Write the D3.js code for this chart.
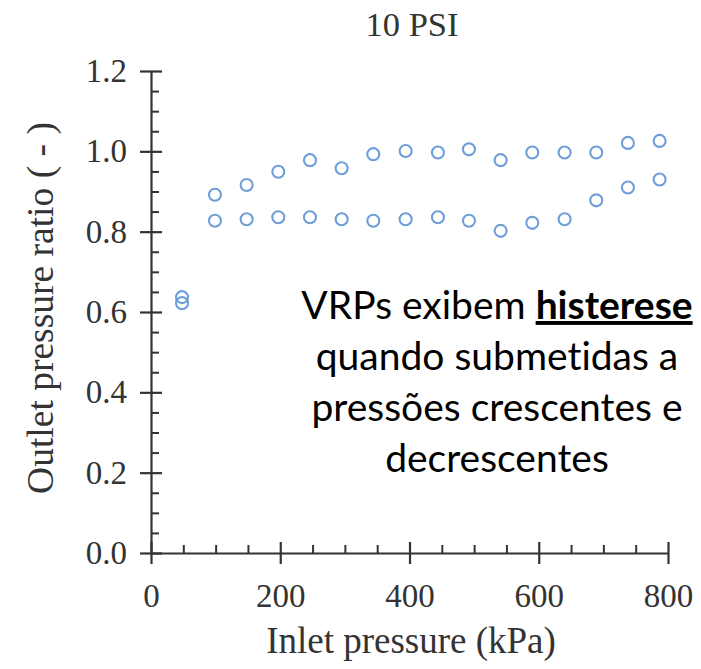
<!DOCTYPE html>
<html><head><meta charset="utf-8">
<script src="https://cdn.jsdelivr.net/npm/d3@7"></script>
<style>
html,body{margin:0;padding:0;background:#fff;}
svg{display:block;}
text{font-variant-ligatures:none;}
</style></head>
<body>
<svg id="chart" width="701" height="669"></svg>
<script>
// Data
const inletPressure = [48, 99, 148, 197, 246, 295, 344, 394, 444, 492, 541, 590, 640, 689, 738, 787];
const ratioUpper = [0.637, 0.892, 0.916, 0.949, 0.978, 0.958, 0.993, 1.001, 0.997, 1.005, 0.978, 0.997, 0.997, 0.997, 1.021, 1.026];
const ratioLower = [0.622, 0.827, 0.831, 0.836, 0.836, 0.831, 0.827, 0.831, 0.836, 0.827, 0.802, 0.822, 0.831, 0.878, 0.910, 0.930];
const xMajorTicks = [0, 200, 400, 600, 800];
const yMajorTicks = [0, 0.2, 0.4, 0.6, 0.8, 1.0, 1.2];
const titleText = "10 PSI";
const xLabel = "Inlet pressure (kPa)";
const yLabel = "Outlet pressure ratio ( - )";
const noteLines = [["VRPs exibem ", "histerese"], ["quando submetidas a"], ["pressões crescentes e"], ["decrescentes"]];

const svg = d3.select("#chart");
const axisColor = "#333";
const serif = "'Liberation Serif', 'Times New Roman', serif";

const x = d3.scaleLinear().domain([0, 800]).range([151, 668]);
const y = d3.scaleLinear().domain([0, 1.2]).range([553, 71]);

const xMinor = d3.range(0, 801, 50).filter(v => v % 200 !== 0);
const yMinor = d3.range(0, 121, 5).map(v => v / 100).filter(v => Math.round(v * 100) % 20 !== 0);

// minor ticks
svg.append("g").attr("transform", `translate(0,${y(0)})`)
  .call(d3.axisBottom(x).tickValues(xMinor).tickSize(-8).tickSizeOuter(0).tickFormat(""))
  .call(g => g.select(".domain").remove())
  .call(g => g.selectAll("line").attr("stroke", axisColor).attr("stroke-width", 2));
svg.append("g").attr("transform", `translate(${x(0)},0)`)
  .call(d3.axisLeft(y).tickValues(yMinor).tickSize(-8).tickSizeOuter(0).tickFormat(""))
  .call(g => g.select(".domain").remove())
  .call(g => g.selectAll("line").attr("stroke", axisColor).attr("stroke-width", 2));

// major x axis
svg.append("g").attr("transform", `translate(0,${y(0)})`)
  .call(d3.axisBottom(x).tickValues(xMajorTicks).tickSize(11).tickSizeOuter(0).tickPadding(20).tickFormat(d3.format("d")))
  .call(g => g.select(".domain").attr("stroke", axisColor).attr("stroke-width", 2.2))
  .call(g => g.selectAll("line").attr("stroke", axisColor).attr("stroke-width", 2.2).attr("y1", -11))
  .call(g => g.selectAll("text").attr("font-family", serif).attr("font-size", 33).attr("fill", axisColor));

// major y axis
svg.append("g").attr("transform", `translate(${x(0)},0)`)
  .call(d3.axisLeft(y).tickValues(yMajorTicks).tickSize(11).tickSizeOuter(0).tickPadding(13).tickFormat(d3.format(".1f")))
  .call(g => g.select(".domain").attr("stroke", axisColor).attr("stroke-width", 2.2))
  .call(g => g.selectAll("line").attr("stroke", axisColor).attr("stroke-width", 2.2).attr("x1", 11))
  .call(g => g.selectAll("text").attr("font-family", serif).attr("font-size", 33).attr("fill", axisColor));

// title & axis labels
svg.append("text").attr("x", 412).attr("y", 36).attr("text-anchor", "middle")
  .attr("font-family", serif).attr("font-size", 34.5).attr("fill", axisColor).text(titleText);
svg.append("text").attr("x", 411).attr("y", 653).attr("text-anchor", "middle")
  .attr("font-family", serif).attr("font-size", 37).attr("fill", axisColor).text(xLabel);
svg.append("text").attr("transform", "translate(53,308) rotate(-90)").attr("text-anchor", "middle")
  .attr("font-family", serif).attr("font-size", 37.5).attr("fill", axisColor).text(yLabel);

// points
const pts = [];
inletPressure.forEach((p, i) => { pts.push([p, ratioUpper[i]]); pts.push([p, ratioLower[i]]); });
svg.append("g").selectAll("circle").data(pts).join("circle")
  .attr("cx", d => x(d[0])).attr("cy", d => y(d[1])).attr("r", 6)
  .attr("fill", "none").attr("stroke", "#6d9ed8").attr("stroke-width", 2.1);

// annotation
const note = svg.append("text").attr("font-family", "Lato, 'Open Sans', sans-serif")
  .attr("font-size", 39).attr("fill", "#000").attr("text-anchor", "middle");
noteLines.forEach((parts, i) => {
  const t = note.append("tspan").attr("x", 497).attr("y", 319 + i * 51);
  parts.forEach((s, j) => {
    const sp = (j === 0) ? t : note.append("tspan");
    sp.text(s);
    if (j === 1) sp.attr("font-weight", "bold").attr("text-decoration", "underline");
  });
});
</script>
</body></html>
